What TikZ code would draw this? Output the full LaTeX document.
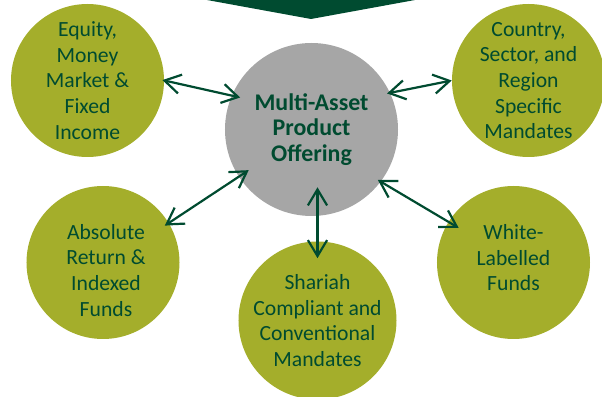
\documentclass[tikz,border=0pt]{standalone}
\usepackage{fontspec}
\setmainfont{Carlito}
\usetikzlibrary{positioning, arrows.meta}
\definecolor{leafgreen}{HTML}{A4AE2B}
\definecolor{darkgreen}{HTML}{004B30}
\definecolor{hubgray}{HTML}{A6A6A6}

\begin{document}
\begin{tikzpicture}[x=0.25mm, y=-0.25mm,
    main/.style = {circle, fill=leafgreen, minimum size=38.25mm, inner sep=0pt, align=center, text=darkgreen, font=\fontsize{15.4}{18.2}\selectfont},
    hub/.style = {circle, fill=hubgray, minimum size=43.25mm, inner sep=0pt, align=center, text=darkgreen, font=\bfseries\fontsize{17}{18}\selectfont},
    link/.style = {{Straight Barb[length=4mm,width=4.8mm]}-{Straight Barb[length=4mm,width=4.8mm]}, draw=darkgreen, line width=0.55mm}]
    \useasboundingbox (0,0) rectangle (602,397);
    \clip (0,0) rectangle (602,397);
    % banner at the top
    \fill[darkgreen] (207,0) -- (415,0) -- (311,19) -- cycle;
    % circles
    \node[hub] (mp) at (311.5,129.5) {Multi-Asset\\Product\\Offering};
    \node[main] (eqt) at (87.5,80.5) {Equity,\\Money\\Market \&\\Fixed\\Income};
    \node[main] (ctry) at (528.5,80.5) {Country,\\Sector, and\\Region\\Specific\\Mandates};
    \node[main] (absr) at (103,262.5) {\hspace{1.5mm}\raisebox{-3.8mm}[0pt][0pt]{\begin{tabular}{@{}c@{}}Absolute\\Return \&\\Indexed\\Funds\end{tabular}}};
    \node[main] (shar) at (317.5,320.5) {Shariah\\Compliant and\\Conventional\\Mandates};
    \node[main] (wlf) at (513.5,262.5) {\raisebox{-0.7mm}[0pt][0pt]{\begin{tabular}{@{}c@{}}White-\\Labelled\\Funds\end{tabular}}};
    % links
    \draw[link, shorten <=-0.5mm, shorten >=-2.2mm] (eqt.east) -- (mp.157);
    \draw[link, shorten <=-0.8mm] (mp.25) -- (ctry.west);
    \draw[link, shorten <=-1.2mm, shorten >=-3mm] (absr.31) -- (mp.213);
    \draw[link, shorten <=-0.85mm, shorten >=-3mm] (mp.-37) -- (wlf.148);
    \draw[link, shorten <=-7.25mm, shorten >=-4.25mm] (shar.north |- mp.south) -- (shar.north);
\end{tikzpicture}
\end{document}
